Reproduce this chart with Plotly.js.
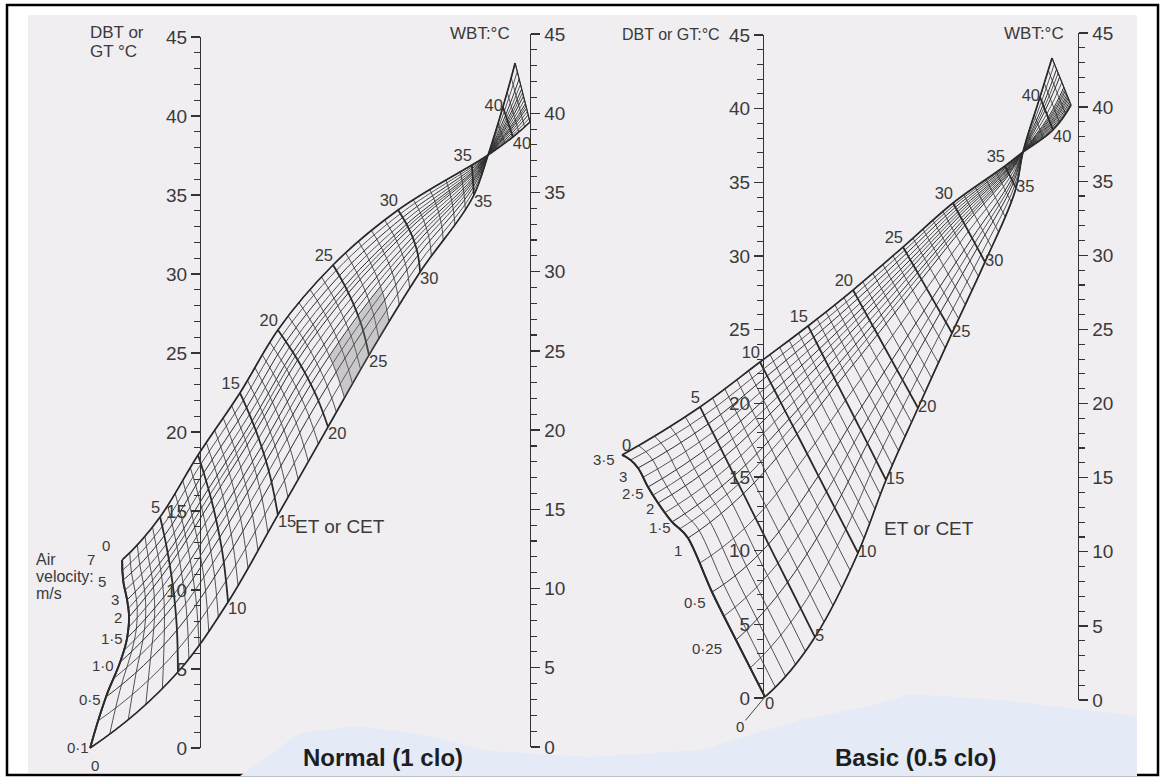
<!DOCTYPE html>
<html><head><meta charset="utf-8">
<script src="https://cdn.plot.ly/plotly-3.0.1.min.js"></script>
<style>html,body{margin:0;padding:0;background:#fff}#chart{width:1164px;height:780px}</style>
</head><body><div id="chart"></div>
<script>
// ---------- DATA ----------
// scale values (°C) on the DBT / GT and WBT scales
const scaleTickValues = [0, 5, 10, 15, 20, 25, 30, 35, 40, 45];

// ET (CET) values at which the grid nodes were read
const etValues = [0, 5, 10, 15, 20, 25, 30, 35, 37, 40, 43];

// Normal (1 clo) nomogram: air velocities (m/s) and node positions
// x: % of distance from DBT scale to WBT scale, y: °C on the DBT scale
const normalVelocity = [0.1, 0.5, 1.0, 1.5, 2, 3, 5, 7];
const normalVelocityText = ['0·1', '0·5', '1·0', '1·5', '2', '3', '5', '7'];
const normalNodeX = [
  [-33.3, -6.7, 8.5, 23.6, 38.8, 51.2, 66.7, 83.0, 87.3, 91.8, 95.5],
  [-28.5, -6.98, 7.22, 21.68, 35.88, 49.44, 66.07, 82.84, 87.3, 92.61, 96.72],
  [-24.2, -7.60, 5.98, 20.02, 33.59, 47.88, 65.23, 82.74, 87.3, 93.12, 97.48],
  [-22.1, -8.24, 4.88, 18.64, 31.77, 46.58, 64.43, 82.66, 87.3, 93.48, 98.02],
  [-21.5, -9.15, 3.50, 16.95, 29.59, 44.96, 63.36, 82.59, 87.3, 93.87, 98.61],
  [-22.1, -9.80, 2.55, 15.81, 28.16, 43.87, 62.60, 82.54, 87.3, 94.11, 98.97],
  [-23.3, -10.82, 1.12, 14.11, 26.05, 42.24, 61.43, 82.47, 87.3, 94.44, 99.46],
  [-23.6, -12.1, -0.6, 12.1, 23.6, 40.3, 60.0, 82.4, 87.3, 94.8, 100]
];
const normalNodeY = [
  [0.0, 4.81, 9.24, 14.75, 20.32, 24.87, 30.13, 35.0, 37.53, 40.57, 43.35],
  [3.23, 7.46, 11.75, 16.83, 21.98, 26.41, 31.19, 35.51, 37.53, 40.06, 42.34],
  [5.44, 9.13, 13.33, 18.15, 23.02, 27.38, 31.85, 35.84, 37.53, 39.73, 41.71],
  [6.96, 10.30, 14.45, 19.07, 23.76, 28.06, 32.33, 36.06, 37.53, 39.51, 41.26],
  [8.29, 11.58, 15.66, 20.08, 24.56, 28.80, 32.83, 36.31, 37.53, 39.26, 40.78],
  [9.37, 12.36, 16.40, 20.69, 25.05, 29.26, 33.15, 36.46, 37.53, 39.11, 40.48],
  [10.63, 13.44, 17.42, 21.54, 25.72, 29.89, 33.58, 36.67, 37.53, 38.90, 40.07],
  [11.90, 14.62, 18.54, 22.47, 26.46, 30.57, 34.05, 36.90, 37.53, 38.67, 39.62]
];
const normalUpperLabels = [5, 15, 20, 25, 30, 35];   // along 7 m/s edge
const normalLowerLabels = [10, 15, 20, 25, 30, 35];  // along 0·1 m/s edge
const normalShadeET = [22, 27, 27, 22, 22];
const normalShadeVelocity = [0.1, 0.1, 1.0, 1.0, 0.1];

// Basic (0.5 clo) nomogram
const basicVelocity = [0, 0.25, 0.5, 1, 1.5, 2, 2.5, 3, 3.5];
const basicVelocityText = ['0', '0·25', '0·5', '1', '1·5', '2', '2·5', '3', '3·5'];
const basicNodeX = [
  [0.63, 16.51, 30.16, 39.05, 49.21, 60.0, 70.48, 80.32, 82.54, 87.94, 91.75],
  [-8.57, 7.82, 22.76, 33.16, 44.30, 56.30, 68.06, 79.49, 82.54, 88.92, 93.19],
  [-16.19, 1.76, 17.59, 29.05, 40.87, 53.71, 66.38, 78.91, 82.54, 89.60, 94.19],
  [-23.81, -6.24, 10.78, 23.62, 36.35, 50.31, 64.15, 78.15, 82.54, 90.51, 95.51],
  [-28.89, -9.12, 8.32, 21.67, 34.72, 49.08, 63.35, 77.87, 82.54, 90.83, 95.98],
  [-33.33, -12.15, 5.74, 19.61, 33.01, 47.79, 62.50, 77.58, 82.54, 91.17, 96.48],
  [-36.51, -14.60, 3.65, 17.95, 31.62, 46.74, 61.82, 77.35, 82.54, 91.45, 96.89],
  [-39.68, -17.33, 1.32, 16.10, 30.08, 45.58, 61.06, 77.08, 82.54, 91.76, 97.34],
  [-44.76, -20.0, -0.95, 14.29, 28.57, 44.44, 60.32, 76.83, 82.54, 92.06, 97.78]
];
const basicNodeY = [
  [0.14, 4.19, 9.88, 14.82, 19.69, 24.76, 29.57, 34.57, 37.01, 40.73, 43.37],
  [3.99, 7.90, 12.95, 17.30, 21.59, 26.15, 30.52, 34.92, 37.01, 40.20, 42.61],
  [7.24, 10.48, 15.10, 19.03, 22.91, 27.11, 31.18, 35.17, 37.01, 39.83, 42.09],
  [10.89, 13.89, 17.93, 21.31, 24.66, 28.39, 32.06, 35.50, 37.01, 39.34, 41.39],
  [11.98, 15.12, 18.95, 22.13, 25.29, 28.85, 32.37, 35.62, 37.01, 39.16, 41.14],
  [13.26, 16.41, 20.02, 23.00, 25.95, 29.33, 32.70, 35.74, 37.01, 38.98, 40.87],
  [14.34, 17.46, 20.89, 23.70, 26.49, 29.72, 32.97, 35.84, 37.01, 38.83, 40.66],
  [15.63, 18.62, 21.86, 24.48, 27.09, 30.16, 33.27, 35.95, 37.01, 38.66, 40.42],
  [16.51, 19.76, 22.80, 25.24, 27.67, 30.58, 33.56, 36.06, 37.01, 38.50, 40.19]
];
const basicUpperLabels = [0, 5, 10, 15, 20, 25, 30, 35];  // along 3·5 m/s edge
const basicLowerLabels = [0, 5, 10, 15, 20, 25, 30, 35];  // along 0 m/s edge

const panelTitles = ['Normal (1 clo)', 'Basic (0.5 clo)'];

// ---------- STYLE ----------
const FONT = 'Liberation Sans, Arial, sans-serif';
const INK = '#2a2a2a';
const LABEL = '#3a3a3a';
// pixel offsets of the velocity labels from the ET = 0 end of each velocity line
const normalVelShift = [[-12, -1], [-16, 3], [-17, 3], [-15, 0], [-11, 0], [-12, 0], [-21, 1], [-31, 0]];
const basicVelShift = [[-25, 30], [-29, 8], [-17, 10], [-10, 12], [-12, 6], [-8, 5], [-15, 6], [-15, 9], [-18, 5]];

function carpetTrace(id, xa, ya, vel, nx, ny) {
  return {
    type: 'carpet', carpet: id, xaxis: xa, yaxis: ya,
    a: etValues, b: vel, x: nx, y: ny,
    aaxis: {
      tickmode: 'linear', tick0: 0, dtick: 5, minorgridcount: 4,
      gridcolor: INK, gridwidth: 1.8, minorgridcolor: '#353535', minorgridwidth: 0.85,
      startline: true, endline: true, startlinecolor: INK, endlinecolor: INK,
      startlinewidth: 1.9, endlinewidth: 1.1, showticklabels: 'none', smoothing: 1,
      linecolor: INK
    },
    baxis: {
      tickmode: 'array', minorgridcount: 1,
      gridcolor: '#303030', gridwidth: 1.0, minorgridcolor: '#3a3a3a', minorgridwidth: 0.85,
      startline: true, endline: true, startlinecolor: INK, endlinecolor: INK,
      startlinewidth: 1.7, endlinewidth: 1.7, showticklabels: 'none', smoothing: 1,
      linecolor: INK
    },
    hoverinfo: 'skip'
  };
}

function textTrace(id, xa, ya, a, b, text, pos) {
  return {
    type: 'scattercarpet', carpet: id, xaxis: xa, yaxis: ya,
    a: a, b: b, text: text, mode: 'text', textposition: pos,
    textfont: {family: FONT, size: 16.5, color: LABEL},
    hoverinfo: 'skip', showlegend: false
  };
}

const rep = (v, n) => Array(n).fill(v);

const traces = [];
// Normal panel
traces.push({
  type: 'scattercarpet', carpet: 'normal', xaxis: 'x', yaxis: 'y',
  a: normalShadeET, b: normalShadeVelocity, mode: 'lines', fill: 'toself',
  fillcolor: 'rgba(120,120,120,0.33)', line: {width: 0}, hoverinfo: 'skip'
});
traces.push(carpetTrace('normal', 'x', 'y', normalVelocity, normalNodeX, normalNodeY));
traces.push(textTrace('normal', 'x', 'y', normalUpperLabels, rep(7, normalUpperLabels.length),
  normalUpperLabels.map(String), rep('top left', normalUpperLabels.length)));
traces.push(textTrace('normal', 'x', 'y', normalLowerLabels, rep(0.1, normalLowerLabels.length),
  normalLowerLabels.map(String), rep('bottom right', normalLowerLabels.length)));
traces.push(textTrace('normal', 'x', 'y', [40, 40], [0.1, 7],
  ['40', '40'], ['middle left', 'bottom right']));

// Basic panel
traces.push(carpetTrace('basic', 'x2', 'y2', basicVelocity, basicNodeX, basicNodeY));
traces.push(textTrace('basic', 'x2', 'y2', basicUpperLabels, rep(3.5, basicUpperLabels.length),
  basicUpperLabels.map(String), ['top right'].concat(rep('top left', basicUpperLabels.length - 1))));
traces.push(textTrace('basic', 'x2', 'y2', basicLowerLabels, rep(0, basicLowerLabels.length),
  basicLowerLabels.map(String), ['bottom right'].concat(rep('middle right', basicLowerLabels.length - 1))));
traces.push(textTrace('basic', 'x2', 'y2', [40, 40], [0, 3.5],
  ['40', '40'], ['middle left', 'bottom right']));

// anchors for the four temperature scales
[['x', 'y3'], ['x', 'y4'], ['x2', 'y5'], ['x2', 'y6']].forEach(function (p) {
  traces.push({type: 'scatter', x: [0], y: [scaleTickValues[0]], xaxis: p[0], yaxis: p[1],
    mode: 'markers', marker: {opacity: 0}, hoverinfo: 'skip', showlegend: false});
});

function scaleAxis(domain, pos, side) {
  return {
    domain: domain, range: [scaleTickValues[0], scaleTickValues[scaleTickValues.length - 1]],
    anchor: 'free', position: pos, side: side,
    tickmode: 'array', tickvals: scaleTickValues,
    showline: true, linecolor: '#333', linewidth: 1.4,
    ticks: 'outside', ticklen: 9, tickwidth: 1.4, tickcolor: '#333',
    minor: {ticks: 'outside', dtick: 1, tick0: 0, ticklen: 6, tickwidth: 1.1, tickcolor: '#333', showgrid: false},
    showgrid: false, zeroline: false, fixedrange: true,
    tickfont: {family: FONT, size: 19, color: LABEL}
  };
}
const hidden = {visible: false, showgrid: false, zeroline: false, fixedrange: true};

// page decoration (paper coordinates)
const W = 1164, H = 780;
const px = (x) => x / W, py = (y) => 1 - y / H;
const wave = [[240,776],[300,733],[357,726],[420,734],[490,751],[590,757],[700,750],[800,720],[870,706],[910,694],[1000,700],[1137,716],[1137,776]];
const wavePath = 'M ' + wave.map(p => px(p[0]).toFixed(4) + ',' + py(p[1]).toFixed(4)).join(' L ') + ' Z';

const annFont = {family: FONT, size: 17, color: LABEL};
const capFont = {family: FONT, size: 16, color: LABEL};
const velFont = {family: FONT, size: 15, color: LABEL};
const annotations = [
  {xref: 'x', yref: 'y', x: -33.9, y: 45.3, text: 'DBT or', showarrow: false,
   xanchor: 'left', yanchor: 'middle', font: annFont},
  {xref: 'x', yref: 'y', x: -33.9, y: 44.1, text: 'GT °C', showarrow: false,
   xanchor: 'left', yanchor: 'middle', font: annFont},
  {xref: 'x', yref: 'y', x: 75.2, y: 45.25, text: 'WBT:°C', showarrow: false,
   xanchor: 'left', yanchor: 'middle', font: annFont},
  {xref: 'x', yref: 'y', x: 28.2, y: 14.0, text: 'ET or CET', showarrow: false,
   xanchor: 'left', yanchor: 'middle', font: {family: FONT, size: 19, color: LABEL}},
  {xref: 'x2', yref: 'y2', x: -45.4, y: 44.93, text: 'DBT or GT:°C', showarrow: false,
   xanchor: 'left', yanchor: 'middle', font: {family: FONT, size: 16, color: LABEL}},
  {xref: 'x2', yref: 'y2', x: 75.9, y: 45.06, text: 'WBT:°C', showarrow: false,
   xanchor: 'left', yanchor: 'middle', font: annFont},
  {xref: 'x2', yref: 'y2', x: 37.8, y: 11.57, text: 'ET or CET', showarrow: false,
   xanchor: 'left', yanchor: 'middle', font: {family: FONT, size: 19, color: LABEL}},
  {xref: 'paper', yref: 'paper', x: px(383), y: py(757), text: panelTitles[0], showarrow: false,
   xanchor: 'center', yanchor: 'middle', font: {family: FONT, size: 24, weight: 'bold', color: '#1e1e1e'}},
  {xref: 'paper', yref: 'paper', x: px(915), y: py(757), text: panelTitles[1], showarrow: false,
   xanchor: 'center', yanchor: 'middle', font: {family: FONT, size: 24, weight: 'bold', color: '#1e1e1e'}}
];
// "Air velocity: m/s" captions, one line each
['Air', 'velocity:', 'm/s'].forEach(function (t, i) {
  annotations.push({xref: 'x', yref: 'y', x: -50.3, y: 11.96 - i * 1.1, text: t, showarrow: false,
    xanchor: 'left', yanchor: 'middle', font: capFont});
});
['Air', 'velocity :', 'm/s'].forEach(function (t, i) {
  annotations.push({xref: 'x2', yref: 'y2', x: -59.7, y: 10.1 - i * 1.4, text: t, showarrow: false,
    xanchor: 'left', yanchor: 'middle', font: annFont});
});
// velocity labels at the ET = 0 end of each velocity line
normalVelocity.forEach(function (v, i) {
  annotations.push({xref: 'x', yref: 'y', x: normalNodeX[i][0], y: normalNodeY[i][0],
    text: normalVelocityText[i], showarrow: false, xanchor: 'center', yanchor: 'middle',
    xshift: normalVelShift[i][0], yshift: -normalVelShift[i][1], font: velFont});
});
basicVelocity.forEach(function (v, i) {
  if (i === 0) {
    annotations.push({xref: 'x2', yref: 'y2', x: basicNodeX[0][0], y: basicNodeY[0][0],
      text: basicVelocityText[0], showarrow: true, arrowhead: 0, arrowwidth: 1, arrowcolor: '#444',
      ax: basicVelShift[0][0], ay: basicVelShift[0][1], font: velFont});
  } else {
    annotations.push({xref: 'x2', yref: 'y2', x: basicNodeX[i][0], y: basicNodeY[i][0],
      text: basicVelocityText[i], showarrow: false, xanchor: 'center', yanchor: 'middle',
      xshift: basicVelShift[i][0], yshift: -basicVelShift[i][1], font: velFont});
  }
});
// ET = 0 labels at both ends of the ET = 0 line (normal chart)
annotations.push({xref: 'x', yref: 'y', x: normalNodeX[7][0], y: normalNodeY[7][0], text: String(etValues[0]),
  showarrow: false, xanchor: 'center', yanchor: 'middle', xshift: -16, yshift: 14, font: velFont});
annotations.push({xref: 'x', yref: 'y', x: normalNodeX[0][0], y: normalNodeY[0][0], text: String(etValues[0]),
  showarrow: false, xanchor: 'center', yanchor: 'middle', xshift: 5, yshift: -17, font: velFont});

const layout = {
  width: W, height: H, margin: {l: 0, r: 0, t: 0, b: 0, pad: 0},
  paper_bgcolor: '#ffffff', plot_bgcolor: 'rgba(0,0,0,0)', showlegend: false,
  xaxis: Object.assign({domain: [0, 0.5], range: [-60.61, 115.76], anchor: 'y'}, hidden),
  yaxis: Object.assign({domain: [0, 1], range: [-2.025, 47.342], anchor: 'x'}, hidden),
  xaxis2: Object.assign({domain: [0.5, 1], range: [-57.46, 127.30], anchor: 'y2'}, hidden),
  yaxis2: Object.assign({domain: [0, 1], range: [-5.48, 47.294], anchor: 'x2'}, hidden),
  yaxis3: scaleAxis([0.04103, 0.95256], 0.17182, 'left'),
  yaxis4: scaleAxis([0.04231, 0.95641], 0.45533, 'right'),
  yaxis5: scaleAxis([0.10513, 0.95513], 0.65550, 'left'),
  yaxis6: scaleAxis([0.10256, 0.95769], 0.92612, 'right'),
  shapes: [
    {type: 'rect', xref: 'paper', yref: 'paper', x0: px(7), x1: px(1158), y0: py(775), y1: py(5),
     line: {color: '#000', width: 2.5}, fillcolor: '#ffffff', layer: 'below'},
    {type: 'rect', xref: 'paper', yref: 'paper', x0: px(28), x1: px(1137), y0: py(773), y1: py(15),
     line: {width: 0}, fillcolor: '#f0eef1', layer: 'below'},
    {type: 'path', xref: 'paper', yref: 'paper', path: wavePath,
     line: {width: 0}, fillcolor: '#e4ebf7', layer: 'below'}
  ],
  annotations: annotations
};

Plotly.newPlot('chart', traces, layout, {staticPlot: true, displayModeBar: false});
</script></body></html>
